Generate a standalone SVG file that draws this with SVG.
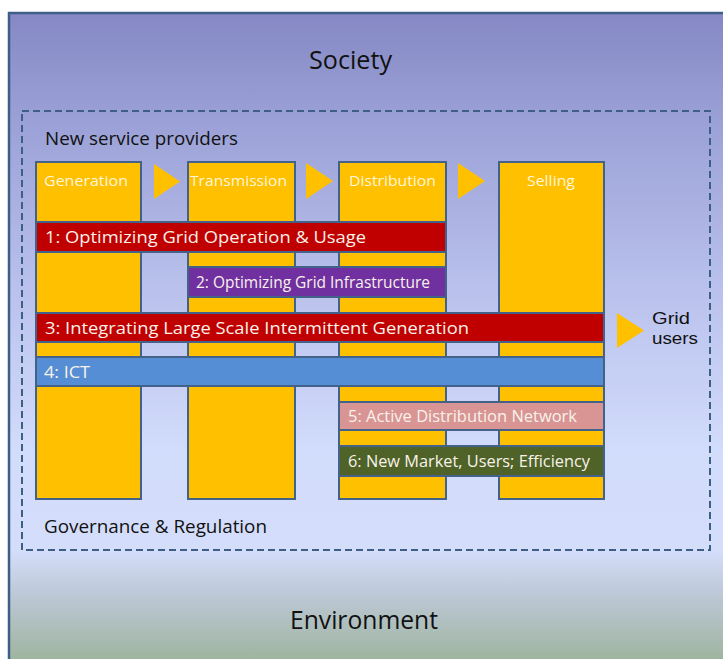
<svg xmlns="http://www.w3.org/2000/svg" width="723" height="659" viewBox="0 0 723 659">
  <defs>
    <linearGradient id="bg" x1="0" y1="13" x2="0" y2="660" gradientUnits="userSpaceOnUse">
      <stop offset="0" stop-color="#8588c4"/>
      <stop offset="0.16" stop-color="#9aa0d6"/>
      <stop offset="0.45" stop-color="#bcc4ee"/>
      <stop offset="0.68" stop-color="#d2dcfb"/>
      <stop offset="0.83" stop-color="#d4defb"/>
      <stop offset="0.9" stop-color="#bcc8d6"/>
      <stop offset="1" stop-color="#9fb49f"/>
    </linearGradient>
  </defs>
  <style>
    text { font-family: "Open Sans", "Liberation Sans", sans-serif; }
    .col { fill: #ffc000; stroke: #43628a; stroke-width: 2; }
    .bar { stroke: #43628a; stroke-width: 2; }
    .hdr { fill: #fff6dc; font-size: 15px; text-anchor: middle; }
    .bt { fill: #f8f2ea; font-size: 17px; }
    .lbl { fill: #111111; }
    .gu { fill: #111111; font-family: "Liberation Sans", sans-serif; font-size: 17px; }
    .tri { fill: #ffc000; }
  </style>

  <rect x="0" y="0" width="723" height="659" fill="#ffffff"/>
  <g id="frame">
    <rect x="9" y="13" width="730" height="660" fill="url(#bg)" stroke="#3e5e86" stroke-width="2.5"/>
    <text class="lbl" x="350.5" y="69" font-size="25" text-anchor="middle" textLength="83" lengthAdjust="spacingAndGlyphs">Society</text>
    <text class="lbl" x="364" y="629" font-size="25" text-anchor="middle" textLength="148" lengthAdjust="spacingAndGlyphs">Environment</text>
  </g>

  <g id="boundary">
    <rect x="22" y="111" width="688" height="439" fill="none" stroke="#3e5e86" stroke-width="2" stroke-dasharray="7,4"/>
    <text class="lbl" x="45" y="145" font-size="19" textLength="193" lengthAdjust="spacingAndGlyphs">New service providers</text>
    <text class="lbl" x="44" y="533" font-size="18.5" textLength="223" lengthAdjust="spacingAndGlyphs">Governance &amp; Regulation</text>
  </g>

  <g id="col-generation">
    <rect class="col" x="36" y="162" width="105" height="337"/>
    <text class="hdr" x="86" y="186" textLength="84" lengthAdjust="spacingAndGlyphs">Generation</text>
  </g>
  <g id="col-transmission">
    <rect class="col" x="188" y="162" width="107" height="337"/>
    <text class="hdr" x="238.5" y="186" textLength="97" lengthAdjust="spacingAndGlyphs">Transmission</text>
  </g>
  <g id="col-distribution">
    <rect class="col" x="339" y="162" width="107" height="337"/>
    <text class="hdr" x="392.5" y="186" textLength="87" lengthAdjust="spacingAndGlyphs">Distribution</text>
  </g>
  <g id="col-selling">
    <rect class="col" x="499" y="162" width="105" height="337"/>
    <text class="hdr" x="551" y="186" textLength="48" lengthAdjust="spacingAndGlyphs">Selling</text>
  </g>

  <g id="bar-1">
    <rect class="bar" x="36" y="222" width="410" height="30" fill="#c00000"/>
    <text class="bt" x="45" y="243" textLength="321" lengthAdjust="spacingAndGlyphs">1: Optimizing Grid Operation &amp; Usage</text>
  </g>
  <g id="bar-2">
    <rect class="bar" x="188" y="267" width="258" height="30" fill="#7030a0"/>
    <text class="bt" x="196" y="288" font-size="14.5" textLength="234" lengthAdjust="spacingAndGlyphs">2: Optimizing Grid Infrastructure</text>
  </g>
  <g id="bar-3">
    <rect class="bar" x="36" y="313" width="568" height="29" fill="#c00000"/>
    <text class="bt" x="45" y="334" textLength="424" lengthAdjust="spacingAndGlyphs">3: Integrating Large Scale Intermittent Generation</text>
  </g>
  <g id="bar-4">
    <rect class="bar" x="36" y="357" width="568" height="29" fill="#558ed5"/>
    <text class="bt" x="44" y="378" textLength="46" lengthAdjust="spacingAndGlyphs">4: ICT</text>
  </g>
  <g id="bar-5">
    <rect class="bar" x="339" y="402" width="265" height="28" fill="#d99594"/>
    <text class="bt" x="348" y="422" font-size="16" textLength="229" lengthAdjust="spacingAndGlyphs">5: Active Distribution Network</text>
  </g>
  <g id="bar-6">
    <rect class="bar" x="339" y="446" width="265" height="30" fill="#4f6228"/>
    <text class="bt" x="348" y="467" font-size="16" textLength="242" lengthAdjust="spacingAndGlyphs">6: New Market, Users; Efficiency</text>
  </g>

  <g id="grid-users">
    <text class="gu" x="652" y="324" textLength="38" lengthAdjust="spacingAndGlyphs">Grid</text>
    <text class="gu" x="652" y="344" textLength="46" lengthAdjust="spacingAndGlyphs">users</text>
  </g>

  <g id="connectors">
    <polygon class="tri" points="154,164 180,181.5 154,199"/>
    <polygon class="tri" points="306,163 333,181 306,199"/>
    <polygon class="tri" points="458,163 485,181 458,199"/>
    <polygon class="tri" points="617,313 644,330.5 617,348"/>
  </g>
</svg>
